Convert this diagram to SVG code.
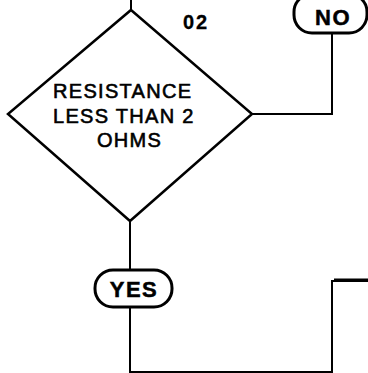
<svg xmlns="http://www.w3.org/2000/svg" width="368" height="373" viewBox="0 0 368 373">
<style>
.ln{fill:none;stroke:#000;stroke-width:2;stroke-linejoin:miter}
.sh{fill:#fff;stroke:#000;stroke-width:2.5}
.t{font-family:"Liberation Sans",Arial,sans-serif;font-size:20px;fill:#000;stroke:#000;stroke-width:0.6;letter-spacing:1.3px}
.b{font-family:"Liberation Sans",Arial,sans-serif;font-size:22px;font-weight:bold;fill:#000;stroke:#000;stroke-width:0.5;letter-spacing:1.5px}
</style>
<rect width="368" height="373" fill="#fff"/>
<g id="connectors">
<path class="ln" d="M131,0 V10"/>
<path class="ln" d="M252,114 H332 V33"/>
<path class="ln" d="M130,221 V270"/>
<path class="ln" d="M130,307 V372 H332 V281 H368"/>
<path d="M334,280 H368" stroke="#000" stroke-width="3"/>
</g>
<g id="decision">
<polygon class="sh" points="131,10 252,114 130,221 8,114"/>
<text class="t" x="53" y="98">RESISTANCE</text>
<text class="t" x="53" y="123">LESS THAN 2</text>
<text class="t" x="97" y="147">OHMS</text>
</g>
<g id="label02">
<text class="b" x="183" y="29" style="font-size:20px;letter-spacing:2px;stroke-width:0.3">02</text>
</g>
<g id="no">
<rect class="sh" x="294" y="-6" width="73" height="39" rx="18" ry="18" style="stroke-width:3"/>
<text class="b" x="333" y="25" text-anchor="middle">NO</text>
</g>
<g id="yes">
<rect class="sh" x="95" y="270" width="77" height="37" rx="18" ry="18" style="stroke-width:3"/>
<text class="b" x="134" y="297" text-anchor="middle">YES</text>
</g>
</svg>
